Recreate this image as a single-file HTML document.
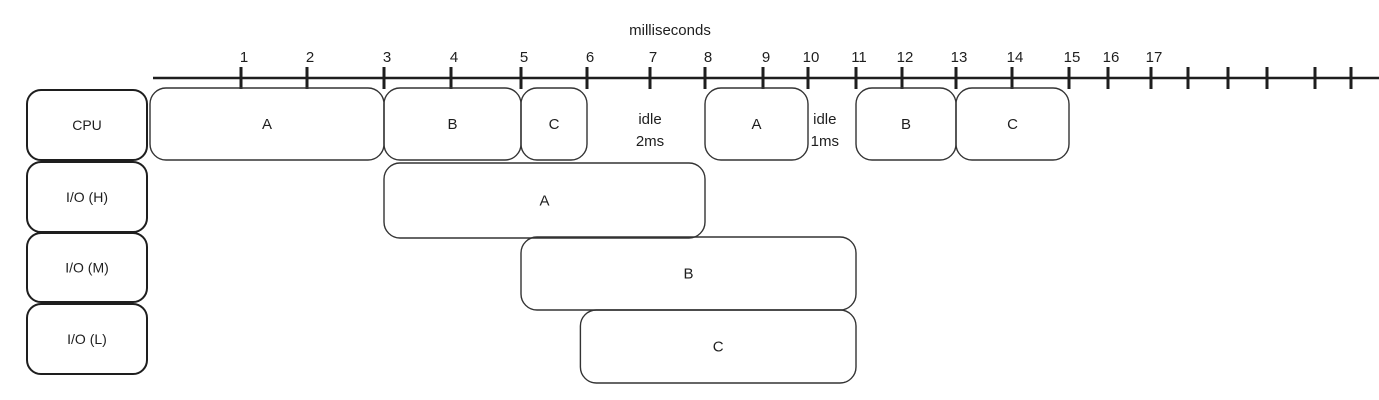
<!DOCTYPE html>
<html><head><meta charset="utf-8">
<style>
html,body{margin:0;padding:0;background:#fff;}
svg{display:block;}
text{font-family:"Liberation Sans",sans-serif;fill:#1e1e1e;}
</style></head>
<body>
<svg id="chart" width="1379" height="400" viewBox="0 0 1379 400"></svg>
<script>
// tick labels (ms) and their drawn positions on the hand-drawn axis
const tickLabels = ["0","1","2","3","4","5","6","7","8","9","10","11","12","13","14","15","16","17","","","","",""];
const tickMs = [0,1,2,3,4,5,6,7,8,9,10,11,12,13,14,15,16,17,18,19,20,21,22];
const axisPx = [150,241,307,384,451,521,587,650,705,763,808,856,902,956,1012,1069,1108,1151,1188,1228,1267,1315,1351];
const rowNames = ["CPU","I/O (H)","I/O (M)","I/O (L)"];
const taskRows = [0,0,0,0,0,0,1,2,3];
const taskLabels = ["A","B","C","A","B","C","A","B","C"];
const taskStart = [0,3,5,8,11,13,3,5,5.9];
const taskEnd = [3,5,6,10,13,15,8,11,11];
const idleLabels = [["idle","2ms"],["idle","1ms"]];
const idleAt = [7,10.35];

const NS="http://www.w3.org/2000/svg";
const svg=document.getElementById('chart');
function x(ms){
  for(let i=0;i<tickMs.length-1;i++){
    if(ms<=tickMs[i+1]){const t=(ms-tickMs[i])/(tickMs[i+1]-tickMs[i]);return axisPx[i]+t*(axisPx[i+1]-axisPx[i]);}
  }
  return axisPx[axisPx.length-1];
}
const rowTop=[88,163,237,310], rowH=[72,75,73,73];
const labTop=[90,162,233,304], labH=[70,70,69,70];
function el(tag,attrs){const e=document.createElementNS(NS,tag);for(const k in attrs)e.setAttribute(k,attrs[k]);svg.appendChild(e);return e;}

const title=el('text',{x:670,y:35,'font-size':15,'text-anchor':'middle'});title.textContent='milliseconds';


const axis=el('line',{x1:153,y1:78,x2:1379,y2:78,stroke:'#1e1e1e','stroke-width':2.5});


for(let i=1;i<tickMs.length;i++){
  const px=x(tickMs[i]);
  const t=el('line',{x1:px,y1:67,x2:px,y2:89,stroke:'#1e1e1e','stroke-width':3});
  
  
  if(tickLabels[i]){
    const l=el('text',{x:px+3,y:62,'font-size':15,'text-anchor':'middle'});l.textContent=tickLabels[i];
    
    
  }
}
rowNames.forEach((n,i)=>{
  const r=el('rect',{x:27,y:labTop[i],width:120,height:labH[i],rx:14,fill:'none',stroke:'#1e1e1e','stroke-width':2});
  
  
  const t=el('text',{x:87,y:labTop[i]+labH[i]/2+5,'font-size':14,'text-anchor':'middle'});t.textContent=n;
  
  
});
taskLabels.forEach((lab,i)=>{
  const r=taskRows[i];const x0=x(taskStart[i]),x1=x(taskEnd[i]);
  const b=el('rect',{x:x0,y:rowTop[r],width:x1-x0,height:rowH[r],rx:16,fill:'none',stroke:'#333','stroke-width':1.4});
  
  
  const t=el('text',{x:(x0+x1)/2,y:rowTop[r]+rowH[r]/2+5,'font-size':15,'text-anchor':'middle'});t.textContent=lab;
  
  
});
idleLabels.forEach((ls,i)=>{
  ls.forEach((s,j)=>{
    const t=el('text',{x:x(idleAt[i]),y:124+j*22,'font-size':15,'text-anchor':'middle'});t.textContent=s;
    
    
  });
});
</script>
</body></html>
